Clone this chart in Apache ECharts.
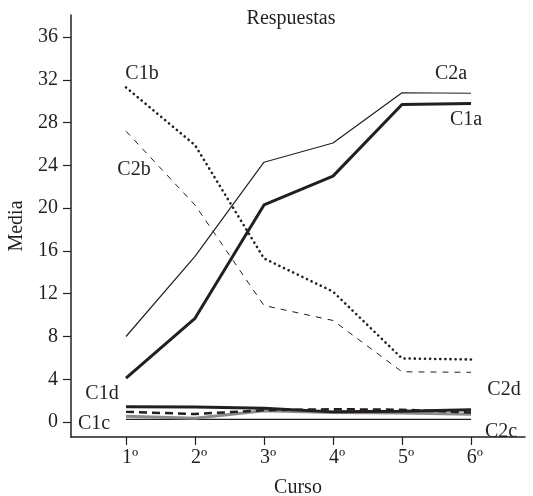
<!DOCTYPE html>
<html>
<head>
<meta charset="utf-8">
<script src="https://cdn.jsdelivr.net/npm/echarts@6/dist/echarts.min.js"></script>
<style>
  html, body { margin: 0; padding: 0; background: #fff; }
  #chart { width: 533px; height: 496px; }
</style>
</head>
<body>
<div id="chart"></div>
<script>
// datos
const cursos = [1, 2, 3, 4, 5, 6]
const cursoLabels = ['1º', '2º', '3º', '4º', '5º', '6º']
const mediaTicks = [0, 4, 8, 12, 16, 20, 24, 28, 32, 36]

const c1a = [4.1, 9.7, 20.3, 23.0, 29.7, 29.8]
const c2a = [8.0, 15.5, 24.3, 26.1, 30.8, 30.75]
const c1b = [31.3, 25.9, 15.3, 12.2, 5.95, 5.85]
const c2b = [27.2, 20.3, 10.9, 9.5, 4.7, 4.65]
const c1d = [1.43, 1.4, 1.3, 0.95, 1.0, 1.15]
const c2d = [0.95, 0.75, 1.1, 1.2, 1.15, 0.9]
const c1c = [0.55, 0.35, 1.05, 0.9, 0.85, 0.72]
const c2c = [0.25, 0.25, 0.25, 0.25, 0.25, 0.25]

const font = '"Liberation Serif", "DejaVu Serif", serif'
const ink = '#231f20'
const fs = 20

const toPairs = vals => cursos.map((c, i) => [c, vals[i]])

const mkLine = (name, vals, style) => ({
  name,
  type: 'line',
  data: toPairs(vals),
  symbol: 'none',
  silent: true,
  lineStyle: Object.assign({ color: ink, width: 1 }, style)
})

const chart = echarts.init(document.getElementById('chart'))

// etiquetas de cada serie
const labelText = (text, x, y) => ({
  type: 'text',
  x, y,
  style: {
    text,
    font: fs + 'px ' + font,
    fill: ink,
    align: 'center',
    verticalAlign: 'middle'
  }
})

chart.setOption({
  animation: false,
  title: {
    text: 'Respuestas',
    left: 286,
    top: 4,
    textAlign: 'center',
    textStyle: { fontFamily: font, fontSize: fs, fontWeight: 'normal', color: ink }
  },
  grid: { left: 71, right: 8, top: 15, bottom: 59, outerBoundsMode: 'none', containLabel: false },
  xAxis: {
    type: 'value',
    min: 0.203,
    max: 6.783,
    name: 'Curso',
    nameLocation: 'middle',
    nameGap: 41,
    nameTextStyle: { fontFamily: font, fontSize: fs, color: ink },
    splitLine: { show: false },
    axisLine: { onZero: false, lineStyle: { color: ink, width: 1.5 } },
    axisTick: { customValues: cursos, length: 8, lineStyle: { color: ink, width: 1.2 } },
    axisLabel: {
      customValues: cursos,
      formatter: v => cursoLabels[cursos.indexOf(v)] || '',
      fontFamily: font,
      fontSize: fs,
      color: ink,
      margin: 11,
      padding: [0, 0, 0, 8]
    }
  },
  yAxis: {
    type: 'value',
    min: -1.4,
    max: 38.07,
    name: 'Media',
    nameLocation: 'middle',
    nameRotate: 90,
    nameGap: 35,
    nameTextStyle: { fontFamily: font, fontSize: fs, color: ink },
    splitLine: { show: false },
    axisLine: { show: true, onZero: false, lineStyle: { color: ink, width: 1.5 } },
    axisTick: { show: true, customValues: mediaTicks, length: 8, lineStyle: { color: ink, width: 1.2 } },
    axisLabel: {
      customValues: mediaTicks,
      fontFamily: font,
      fontSize: fs,
      color: ink,
      margin: 13
    }
  },
  series: [
    mkLine('C2c', c2c, { width: 1.2 }),
    mkLine('C1c', c1c, { color: '#8a8a8a', width: 3 }),
    mkLine('C2d', c2d, { width: 2.5, type: [8, 5] }),
    mkLine('C1d', c1d, { width: 3 }),
    mkLine('C2b', c2b, { width: 1, type: [6, 6] }),
    mkLine('C1b', c1b, { width: 2.6, type: [0.1, 5], cap: 'round' }),
    mkLine('C2a', c2a, { width: 1.2 }),
    mkLine('C1a', c1a, { width: 3 })
  ],
  graphic: [
    labelText('C1b', 142, 74),
    labelText('C2a', 451, 74),
    labelText('C1a', 466, 120),
    labelText('C2b', 134, 170),
    labelText('C1d', 102, 394),
    labelText('C1c', 94, 424),
    labelText('C2d', 504, 390),
    labelText('C2c', 501, 432)
  ]
})
</script>
</body>
</html>
